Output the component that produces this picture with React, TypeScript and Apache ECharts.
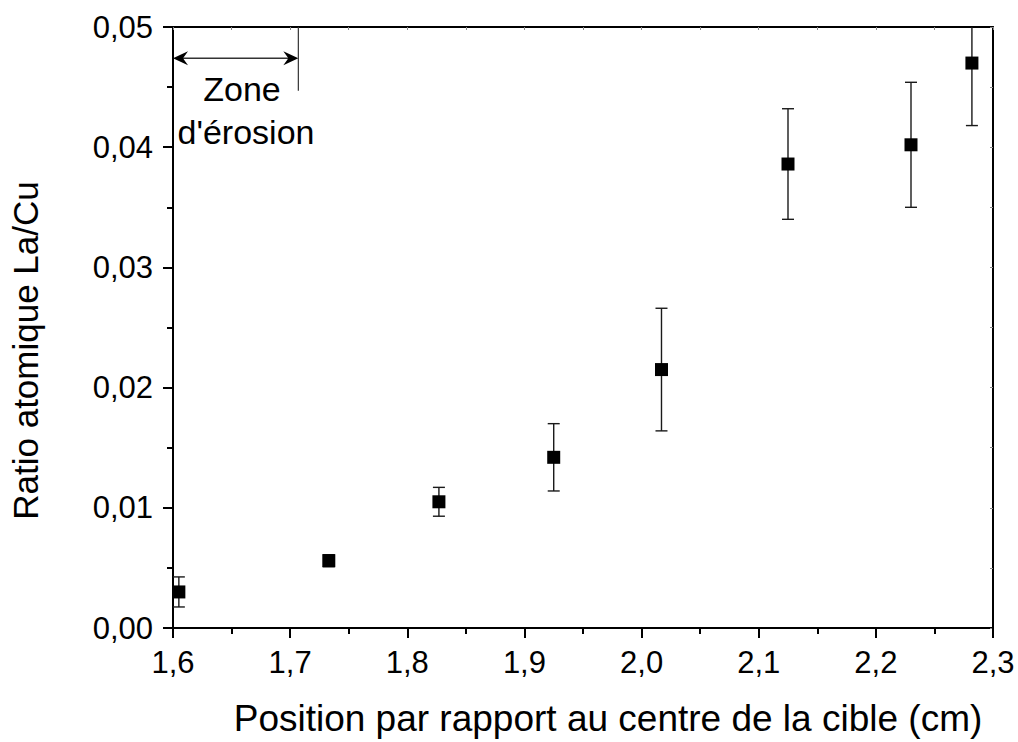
import React, { useEffect, useRef } from "react";
import * as echarts from "echarts";

// Data
const positions = [1.605, 1.733, 1.827, 1.925, 2.017, 2.125, 2.23, 2.282];
const ratios = [0.003, 0.0056, 0.0105, 0.0142, 0.0215, 0.0386, 0.0402, 0.047];
const errors = [0.00125, 0.0005, 0.0012, 0.0028, 0.0051, 0.0046, 0.0052, 0.0052];

// Axis ranges / ticks
const xMin = 1.6;
const xMax = 2.3;
const xStep = 0.1;
const yMin = 0;
const yMax = 0.05;
const yStep = 0.01;

// Annotation: erosion zone (from, to, arrow level, marker line top, marker line bottom)
const zoneAnnotation = [[1.6, 1.707, 0.0474, 0.05, 0.0447]];
const zoneLines = ["Zone", "d'érosion"];

const xTitle = "Position par rapport au centre de la cible (cm)";
const yTitle = "Ratio atomique La/Cu";

const FONT = '"Liberation Sans", Arial, Helvetica, sans-serif';

export default function App() {
  const ref = useRef<HTMLDivElement>(null);

  useEffect(() => {
    if (!ref.current) return;
    const chart = echarts.init(ref.current, null, { renderer: "svg" });

    const points = positions.map((x, i) => [x, ratios[i]]);
    const bars = positions.map((x, i) => [x, ratios[i] - errors[i], ratios[i] + errors[i]]);

    const option: any = {
      animation: false,
      backgroundColor: "#ffffff",
      textStyle: { fontFamily: FONT },
      grid: { left: 171, right: 25, top: 27, bottom: 108, containLabel: false },
      xAxis: [
        {
          type: "value",
          min: xMin,
          max: xMax,
          interval: xStep,
          position: "bottom",
          name: xTitle,
          nameLocation: "middle",
          nameGap: 72,
          nameTextStyle: { fontSize: 37, color: "#000", fontFamily: FONT, padding: [0, 0, 0, 50] },
          axisLine: { show: true, onZero: false, lineStyle: { color: "#000", width: 2 } },
          axisTick: { show: true, inside: false, length: 10, lineStyle: { color: "#000", width: 2 } },
          minorTick: { show: true, splitNumber: 2, length: 6, lineStyle: { color: "#000", width: 2 } },
          splitLine: { show: false },
          axisLabel: {
            fontSize: 31,
            color: "#000",
            fontFamily: FONT,
            margin: 19,
            formatter: (v: number) => v.toFixed(1).replace(".", ","),
          },
        },
        {
          type: "value",
          min: xMin,
          max: xMax,
          interval: 0.05,
          position: "top",
          axisLine: { show: true, onZero: false, lineStyle: { color: "#000", width: 2 } },
          axisTick: { show: true, inside: true, length: 3, lineStyle: { color: "#888", width: 1 } },
          axisLabel: { show: false },
          splitLine: { show: false },
        },
      ],
      yAxis: [
        {
          type: "value",
          min: yMin,
          max: yMax,
          interval: yStep,
          position: "left",
          name: yTitle,
          nameLocation: "middle",
          nameGap: 130,
          nameRotate: 90,
          nameTextStyle: { fontSize: 35, color: "#000", fontFamily: FONT, padding: [0, 46, 0, 0] },
          axisLine: { show: true, onZero: false, lineStyle: { color: "#000", width: 2 } },
          axisTick: { show: true, inside: false, length: 10, lineStyle: { color: "#000", width: 2 } },
          minorTick: { show: true, splitNumber: 2, length: 6, lineStyle: { color: "#000", width: 2 } },
          splitLine: { show: false },
          axisLabel: {
            fontSize: 31,
            color: "#000",
            fontFamily: FONT,
            margin: 20,
            formatter: (v: number) => v.toFixed(2).replace(".", ","),
          },
        },
        {
          type: "value",
          min: yMin,
          max: yMax,
          interval: 0.005,
          position: "right",
          axisLine: { show: true, onZero: false, lineStyle: { color: "#000", width: 2 } },
          axisTick: { show: true, inside: true, length: 3, lineStyle: { color: "#888", width: 1 } },
          axisLabel: { show: false },
          splitLine: { show: false },
        },
      ],
      series: [
        {
          type: "custom",
          name: "errors",
          xAxisIndex: 0,
          yAxisIndex: 0,
          clip: true,
          data: bars,
          encode: { x: 0, y: [1, 2] },
          z: 2,
          renderItem: (params: any, api: any) => {
            const x = api.value(0);
            const lo = api.coord([x, api.value(1)]);
            const hi = api.coord([x, api.value(2)]);
            const w = 6;
            const st = { stroke: "#1a1a1a", lineWidth: 1.4 };
            return {
              type: "group",
              children: [
                { type: "line", shape: { x1: lo[0], y1: lo[1], x2: hi[0], y2: hi[1] }, style: st },
                { type: "line", shape: { x1: lo[0] - w, y1: lo[1], x2: lo[0] + w, y2: lo[1] }, style: st },
                { type: "line", shape: { x1: hi[0] - w, y1: hi[1], x2: hi[0] + w, y2: hi[1] }, style: st },
              ],
            };
          },
        },
        {
          type: "scatter",
          name: "ratio",
          xAxisIndex: 0,
          yAxisIndex: 0,
          data: points,
          symbol: "rect",
          symbolSize: 13,
          itemStyle: { color: "#000", opacity: 1 },
          z: 3,
        },
        {
          type: "custom",
          name: "zone",
          xAxisIndex: 0,
          yAxisIndex: 0,
          clip: false,
          silent: true,
          data: zoneAnnotation,
          encode: { x: [0, 1], y: [2, 3, 4] },
          z: 4,
          renderItem: (params: any, api: any) => {
            const a = api.coord([api.value(0), api.value(2)]);
            const b = api.coord([api.value(1), api.value(2)]);
            const t = api.coord([api.value(1), api.value(3)]);
            const bt = api.coord([api.value(1), api.value(4)]);
            const L = 15;
            const H = 7;
            const N = 10;
            return {
              type: "group",
              children: [
                { type: "line", shape: { x1: a[0] + 4, y1: a[1], x2: b[0] - 4, y2: b[1] }, style: { stroke: "#333", lineWidth: 1.5 } },
                {
                  type: "polygon",
                  shape: { points: [[a[0], a[1]], [a[0] + L, a[1] - H], [a[0] + N, a[1]], [a[0] + L, a[1] + H]] },
                  style: { fill: "#000" },
                },
                {
                  type: "polygon",
                  shape: { points: [[b[0], b[1]], [b[0] - L, b[1] - H], [b[0] - N, b[1]], [b[0] - L, b[1] + H]] },
                  style: { fill: "#000" },
                },
                { type: "line", shape: { x1: t[0], y1: t[1], x2: bt[0], y2: bt[1] }, style: { stroke: "#333", lineWidth: 1.2 } },
                {
                  type: "text",
                  x: a[0] + 69,
                  y: a[1] + 31,
                  style: { text: zoneLines[0], fontSize: 34, fontFamily: FONT, fill: "#000", align: "center", verticalAlign: "middle" },
                },
                {
                  type: "text",
                  x: a[0] + 73,
                  y: a[1] + 74,
                  style: { text: zoneLines[1], fontSize: 34, fontFamily: FONT, fill: "#000", align: "center", verticalAlign: "middle" },
                },
              ],
            };
          },
        },
      ],
    };

    chart.setOption(option);
    return () => chart.dispose();
  }, []);

  return (
    <div
      ref={ref}
      style={{ position: "fixed", left: 0, top: 0, width: 1018, height: 742, background: "#fff" }}
    />
  );
}
